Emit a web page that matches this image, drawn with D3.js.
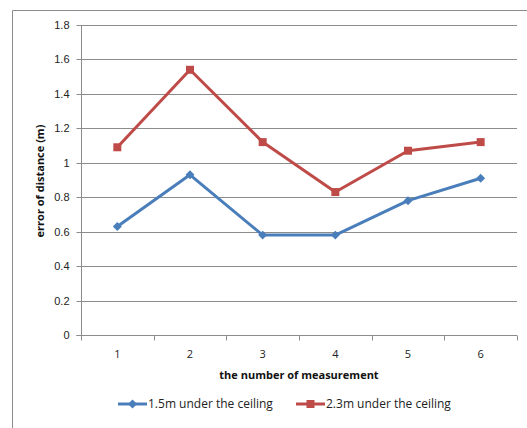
<!DOCTYPE html>
<html>
<head>
<meta charset="utf-8">
<script src="https://cdn.jsdelivr.net/npm/d3@7"></script>
<style>
html,body{margin:0;padding:0;background:#fff;}
svg{display:block;font-family:"Open Sans","DejaVu Sans",sans-serif;}
</style>
</head>
<body>
<svg id="chart" width="527" height="428"></svg>
<script>
const categories = ["1","2","3","4","5","6"];
const series1Name = "1.5m under the ceiling";
const series1 = [0.63, 0.93, 0.58, 0.58, 0.78, 0.91];
const series2Name = "2.3m under the ceiling";
const series2 = [1.09, 1.54, 1.12, 0.83, 1.07, 1.12];
const yTicks = [0, 0.2, 0.4, 0.6, 0.8, 1, 1.2, 1.4, 1.6, 1.8];
const xTitle = "the number of measurement";
const yTitle = "error of distance (m)";

(function () {
const svg = d3.select("#chart");
const blue = "#4A7EBB", red = "#BE4B48", grid = "#8c8c8c";

// outer chart border
svg.append("path").attr("d", "M12.5,428 V10.5 H527").attr("fill","none").attr("stroke","#8c8c8c").attr("stroke-width",1);

const pLeft = 81, pRight = 517, pTop = 25, pBottom = 335;
const x = d3.scaleBand().domain(categories).range([pLeft, pRight]).padding(0);
const y = d3.scaleLinear().domain([0, 1.8]).range([pBottom, pTop]);

// gridlines
svg.append("g").selectAll("line").data(yTicks.filter(d => d > 0)).join("line")
  .attr("x1", pLeft).attr("x2", pRight)
  .attr("y1", d => Math.round(y(d)) + 0.5).attr("y2", d => Math.round(y(d)) + 0.5)
  .attr("stroke", grid).attr("stroke-width", 1);

// y axis
const yAxis = d3.axisLeft(y).tickValues(yTicks).tickSize(5).tickPadding(7)
  .tickFormat(d => d3.format("")(+d.toFixed(1)));
const gy = svg.append("g").attr("transform", `translate(${pLeft + 0.5},0.5)`).call(yAxis);
gy.select(".domain").attr("stroke", grid).attr("d", `M-5,${pBottom}H0V${pTop}`);
gy.selectAll(".tick line").attr("stroke", grid);
gy.selectAll(".tick text").attr("fill", "#222").style("font-size", "11px");
gy.selectAll(".tick").attr("transform", d => `translate(0,${Math.round(y(d))})`);

// x axis
const gx = svg.append("g").attr("transform", `translate(0,${pBottom + 0.5})`);
gx.append("line").attr("x1", pLeft).attr("x2", pRight).attr("stroke", grid);
const bounds = categories.map(c => x(c)).concat([pRight]);
gx.selectAll("line.tk").data(bounds).join("line").attr("class","tk")
  .attr("x1", d => Math.round(d) + 0.5).attr("x2", d => Math.round(d) + 0.5)
  .attr("y1", 0).attr("y2", 5).attr("stroke", grid);
gx.selectAll("text").data(categories).join("text")
  .attr("x", d => x(d) + x.bandwidth() / 2).attr("y", 22)
  .attr("text-anchor", "middle").attr("fill", "#222").style("font-size", "11px").text(d => d);

// axis titles
svg.append("text").attr("x", 299).attr("y", 379).attr("text-anchor", "middle")
  .style("font-size", "11px").style("font-weight", "bold").attr("fill", "#111").text(xTitle);
svg.append("text").attr("transform", "translate(44,181) rotate(-90)").attr("text-anchor", "middle")
  .style("font-size", "11px").style("font-weight", "bold").attr("fill", "#111").text(yTitle);

// lines
const line = d3.line().x((d, i) => x(categories[i]) + x.bandwidth() / 2).y(d => y(d));
const sqSym = d3.symbol().type(d3.symbolSquare).size(64);
const diaSym = d3.symbol().type(d3.symbolSquare).size(40);
function drawSeries(data, color, isDiamond) {
  svg.append("path").datum(data).attr("d", line).attr("fill", "none")
    .attr("stroke", color).attr("stroke-width", 3).attr("stroke-linejoin", "round");
  svg.append("g").selectAll("path").data(data).join("path")
    .attr("transform", (d, i) => `translate(${x(categories[i]) + x.bandwidth() / 2},${y(d)})` + (isDiamond ? " rotate(45)" : ""))
    .attr("d", isDiamond ? diaSym : sqSym).attr("fill", color);
}
drawSeries(series1, blue, true);
drawSeries(series2, red, false);

// legend
function legendItem(x0, color, isDiamond, label) {
  const g = svg.append("g").attr("transform", `translate(${x0},404)`);
  g.append("line").attr("x1", 0).attr("x2", 29).attr("stroke", color).attr("stroke-width", 3);
  g.append("path").attr("transform", "translate(14.5,0)" + (isDiamond ? " rotate(45)" : ""))
    .attr("d", isDiamond ? diaSym : sqSym).attr("fill", color);
  g.append("text").attr("x", 30).attr("y", 4).style("font-size", "12px").attr("fill", "#222").text(label);
}
legendItem(118, blue, true, series1Name);
legendItem(296, red, false, series2Name);
})();
</script>
</body>
</html>
